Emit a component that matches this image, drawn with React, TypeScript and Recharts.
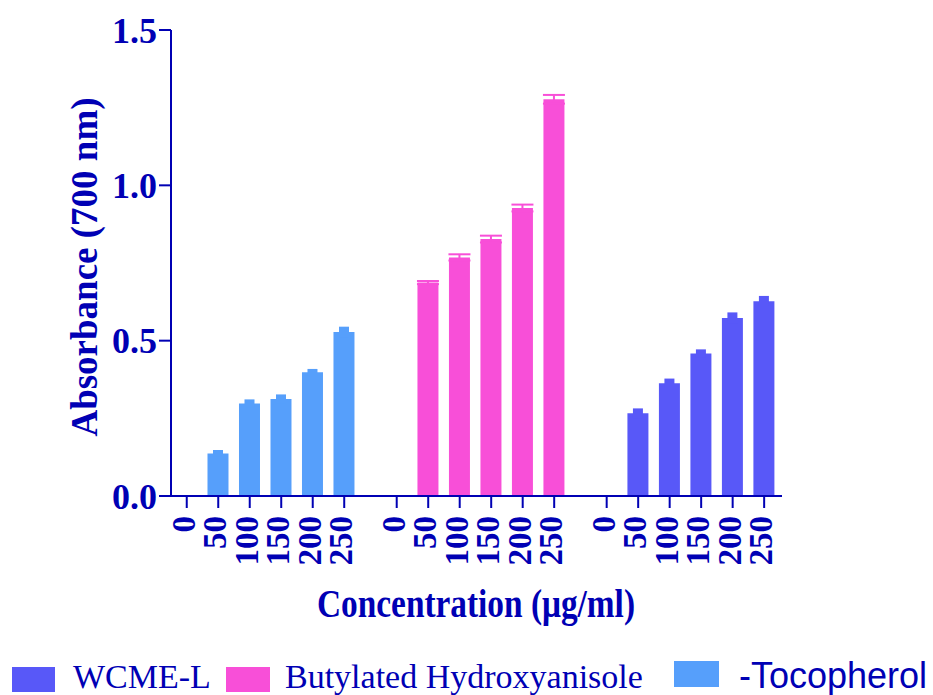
import { Bar, BarChart, Cell, ErrorBar, XAxis, YAxis } from "recharts";

const concentrations = [0, 50, 100, 150, 200, 250];

const tocopherol = [0, 0.137, 0.298, 0.312, 0.398, 0.528];
const tocopherolErr = [0, 0.011, 0.013, 0.015, 0.011, 0.017];
const bha = [0, 0.687, 0.768, 0.827, 0.927, 1.277];
const bhaErr = [0, 0.005, 0.01, 0.011, 0.011, 0.014];
const wcme = [0, 0.266, 0.363, 0.459, 0.573, 0.627];
const wcmeErr = [0, 0.016, 0.015, 0.013, 0.018, 0.017];

const yTicks = [0, 0.5, 1, 1.5];

const ink = "#0000B4";
const serif = "'Liberation Serif', 'Times New Roman', serif";
const sans = "'Liberation Sans', Arial, sans-serif";

const groups = [
  { name: "-Tocopherol", values: tocopherol, errors: tocopherolErr, color: "#569FFB", errKey: "errToco" },
  { name: "Butylated Hydroxyanisole", values: bha, errors: bhaErr, color: "#F84FD8", errKey: "errBha" },
  { name: "WCME-L", values: wcme, errors: wcmeErr, color: "#5858F8", errKey: "errWcme" }
];

// each group takes 6 slots plus a gap of 2/3 slot
const GROUP_STEP = 20 / 3;

const rows = groups.flatMap((group, gi) =>
  concentrations.map((conc, i) => ({
    pos: gi * GROUP_STEP + i,
    label: String(conc),
    value: group.values[i],
    color: group.color,
    [group.errKey]: group.errors[i] || undefined
  }))
);
const xTicks = rows.map((row) => row.pos);

function XTick(props: any) {
  const { x, y, index } = props;
  return (
    <text
      x={x}
      y={y}
      dy={8}
      transform={`rotate(-90, ${x}, ${y})`}
      textAnchor="end"
      fill={ink}
      fontFamily={serif}
      fontWeight="bold"
      fontSize={33}
    >
      {rows[index]?.label}
    </text>
  );
}

export default function App() {
  const axisStyle = { stroke: ink, strokeWidth: 2 };
  return (
    <div style={{ position: "relative", width: 933, height: 695, background: "#fff" }}>
      <style>{"body{margin:0}"}</style>
      <BarChart width={933} height={695} data={rows} margin={{ top: 30, right: 151, bottom: 119, left: 71 }}>
        <XAxis
          dataKey="pos"
          type="number"
          domain={[-0.5, 18.9]}
          ticks={xTicks}
          interval={0}
          height={80}
          tickSize={12}
          tickMargin={8}
          axisLine={axisStyle}
          tickLine={axisStyle}
          tick={<XTick />}
        />
        <YAxis
          type="number"
          domain={[0, 1.5]}
          ticks={yTicks}
          width={100}
          tickSize={12}
          tickMargin={2}
          axisLine={axisStyle}
          tickLine={axisStyle}
          tickFormatter={(v: number) => v.toFixed(1)}
          tick={{ fill: ink, fontFamily: serif, fontWeight: "bold", fontSize: 36 }}
        />
        <Bar dataKey="value" barSize={21} isAnimationActive={false}>
          {rows.map((row) => (
            <Cell key={row.pos} fill={row.color} />
          ))}
          <ErrorBar dataKey="errToco" width={0} strokeWidth={10} stroke="#569FFB" isAnimationActive={false} />
          <ErrorBar dataKey="errWcme" width={0} strokeWidth={10} stroke="#5858F8" isAnimationActive={false} />
          <ErrorBar dataKey="errBha" width={11} strokeWidth={2} stroke="#F84FD8" isAnimationActive={false} />
        </Bar>
      </BarChart>
      <svg width={933} height={695} style={{ position: "absolute", left: 0, top: 0, pointerEvents: "none" }}>
        <text
          x={97}
          y={267}
          transform="rotate(-90, 97, 267)"
          textAnchor="middle"
          fill={ink}
          fontFamily={serif}
          fontWeight="bold"
          fontSize={37}
        >
          Absorbance (700 nm)
        </text>
        <text
          x={317}
          y={617}
          textLength={318}
          lengthAdjust="spacingAndGlyphs"
          fill={ink}
          fontFamily={serif}
          fontWeight="bold"
          fontSize={40}
        >
          Concentration (μg/ml)
        </text>
        <rect x={12} y={667} width={43} height={25} fill={groups[2].color} />
        <text x={73} y={688} fill={ink} fontFamily={serif} fontSize={34}>
          {groups[2].name}
        </text>
        <rect x={226} y={667} width={44} height={25} fill={groups[1].color} />
        <text x={285} y={688} fill={ink} fontFamily={serif} fontSize={34}>
          {groups[1].name}
        </text>
        <rect x={674} y={661} width={45} height={26} fill={groups[0].color} />
        <text x={739} y={688} fill={ink} fontFamily={sans} fontSize={36}>
          {groups[0].name}
        </text>
      </svg>
    </div>
  );
}
